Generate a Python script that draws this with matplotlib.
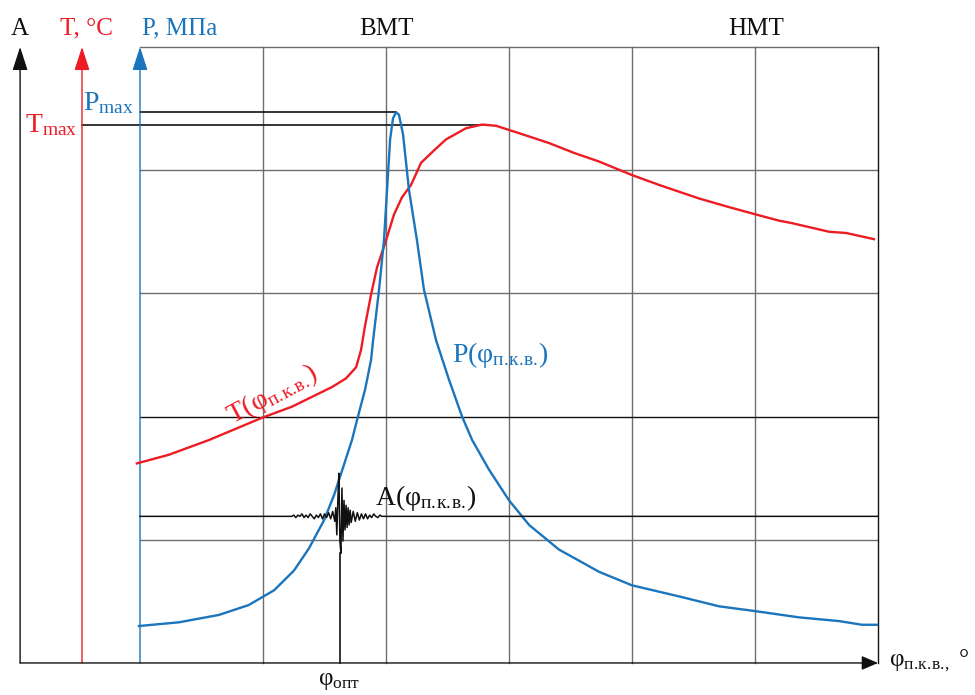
"""Schematic: P, T and knock signal A against crank angle (TDC / BDC)."""

import matplotlib.pyplot as plt

# ── palette ────────────────────────────────────────────────────────────
RED = "#ED1C24"
BLUE = "#1B75BC"
GRID = "#6E6E6E"
INK = "#111111"

plt.rcParams["font.family"] = ["Liberation Serif", "DejaVu Serif"]
plt.rcParams["mathtext.fontset"] = "custom"
plt.rcParams["mathtext.rm"] = "Liberation Serif"
plt.rcParams["mathtext.it"] = "Liberation Serif"

# ── data (crank angle in deg, 0 = TDC; values in grid units, 100 per row)
p_phi = [-120.5, -101, -81.5, -67, -54.6, -44.9, -37.6, -30.2, -25.4, -20.5,
         -16.6, -13.7, -10.2, -7.3, -6.3, -3.4, -1, 0.5, 2, 3.4, 4.9, 6.3,
         8.3, 11.2, 15.1, 18.5, 24.4, 30.7, 37.1, 42, 50.2, 60, 69.8, 84.4,
         103.9, 120, 143, 162.4, 180.5, 201.5, 221, 232.2, 239.5]
p_val = [30, 33, 39, 47, 59, 75, 93, 116, 136, 161,
         181, 200, 222, 246, 262, 303, 343, 384, 425, 442, 447, 445,
         429, 384, 343, 303, 262, 230, 200, 181, 157, 132, 112, 92,
         74, 63, 54, 46, 42, 37, 34, 31, 31]

t_phi = [-121.5, -105.9, -86.3, -60.5, -45.9, -26.3, -19.5, -14.6, -12.2,
         -10.2, -7.3, -4.4, 0, 3.9, 7.8, 12.2, 17.1, 23.4, 29.3, 39, 46.8,
         53.7, 64.9, 79.5, 91.7, 103.9, 120, 133.2, 152.7, 167.3, 180.5,
         191.7, 198, 216.1, 224.4, 238]
t_val = [162, 169, 181, 199, 208, 224, 231, 240, 254,
         274, 299, 321, 343, 364, 378, 388, 406, 416, 425, 434, 437,
         436, 430, 422, 414, 407, 396, 388, 377, 370, 364,
         359, 357, 350, 349, 344]

a_level = 119
a_phi = [-120, -46, -45, -44, -43, -42, -41, -40, -39, -38, -37, -36, -35,
         -34, -33, -32, -31, -30, -29, -28, -27, -26, -25, -24.5, -24,
         -23.5, -23, -22.5, -22, -21.5, -21, -20.5, -20, -19.5, -19, -18.5,
         -18, -17.5, -17, -16, -15, -14, -13, -12, -11, -10, -9, -8, -7,
         -6, -5, -4, -3, -2, -1, 240]
a_dev = [0, 0, 1, -1, 1, 0, 2, -1, 1, -1, 2, 0, -2,
         1, -1, 2, -2, 2, -1, 3, -2, 4, -4, 7, -15,
         13, 35, -20, -30, 23, -20, 13, -11, 9, -9, 7,
         -7, 5, -5, 4, -4, 3, -3, 2, -2, 2, -2, 1, -1,
         2, 0, -1, 1, 0, 0, 0]
phi_opt = -22.3

pmax = max(p_val)
tmax = max(t_val)
phi_pmax = p_phi[p_val.index(pmax)]
phi_tmax = t_phi[t_val.index(tmax)]

grid_phi = [-60, 0, 60, 120, 180]
grid_y = [100, 200, 300, 400]

# ── layout (one axes covering the whole canvas) ───────────────────────
X_A, X_T, X_P, X_END, Y_TOP = -178.5, -148.3, -120, 240, 500

fig = plt.figure(figsize=(9.75, 6.95), dpi=100)
ax = fig.add_axes([0, 0, 1, 1])
ax.set_xlim(-188.3, 287.3)
ax.set_ylim(-26, 538.1)
ax.axis("off")


def up_axis(x, color):
    ax.annotate("", xy=(x, Y_TOP), xytext=(x, 0),
                arrowprops=dict(arrowstyle="-|>,head_length=1.45,head_width=0.47",
                                color=color, lw=1.0, shrinkA=0, shrinkB=0,
                                mutation_scale=10))


# grid
for g in grid_phi:
    ax.plot([g, g], [0, Y_TOP], color=GRID, lw=1.0, zorder=1)
for g in grid_y:
    ax.plot([X_P, X_END], [g, g], color=INK if g == 200 else GRID, lw=1.0, zorder=1)
ax.plot([X_P, X_END], [Y_TOP, Y_TOP], color=GRID, lw=1.0, zorder=1)
ax.plot([X_END, X_END], [0, Y_TOP], color=INK, lw=1.0, zorder=1)

# axes
up_axis(X_A, INK)
up_axis(X_T, RED)
up_axis(X_P, BLUE)
ax.annotate("", xy=(X_END, 0), xytext=(X_A, 0),
            arrowprops=dict(arrowstyle="-|>,head_length=1.0,head_width=0.43",
                            color=INK, lw=1.0, shrinkA=0, shrinkB=0,
                            mutation_scale=10))

# max levels
ax.plot([X_P, phi_pmax], [pmax, pmax], color=INK, lw=1.2, zorder=2)
ax.plot([X_T, phi_tmax], [tmax, tmax], color=INK, lw=1.2, zorder=2)

# curves
ax.plot(t_phi, t_val, color=RED, lw=1.7, zorder=3)
ax.plot(p_phi, p_val, color=BLUE, lw=1.7, zorder=3)
ax.plot(a_phi, [a_level + d for d in a_dev], color=INK, lw=1.1, zorder=4)
ax.plot([phi_opt, phi_opt], [0, a_level - 30], color=INK, lw=1.2, zorder=4)

# ── labels ────────────────────────────────────────────────────────────
# \! cancels the thin space mathtext puts after each dot
SUB = r"$_{\mathrm{п.\!к.\!в.\!}}$"
top = dict(ha="center", va="baseline", fontsize=18)
ax.text(X_A, 510, "A", color=INK, **top)
ax.text(-146.3, 510, "T, °C", color=RED, **top)
ax.text(-100.5, 510, "P, МПа", color=BLUE, **top)
ax.text(0, 510, "ВМТ", color=INK, **top)
ax.text(180.5, 510, "НМТ", color=INK, **top)

ax.text(-122.9, 449, r"P$_{\mathrm{max}}$", color=BLUE, fontsize=20,
        ha="right", va="baseline")
ax.text(-150.7, 431, r"T$_{\mathrm{max}}$", color=RED, fontsize=20,
        ha="right", va="baseline")

ax.text(-55.6, 218, "T(φ" + SUB + ")", color=RED, fontsize=20,
        ha="center", va="center", rotation=28, rotation_mode="anchor")
ax.text(32.2, 250, "P(φ" + SUB + ")", color=BLUE, fontsize=20,
        ha="left", va="center")
ax.text(-5.4, 134, "A(φ" + SUB + ")", color=INK, fontsize=20,
        ha="left", va="center")
ax.text(245.4, 2, "φ" + r"$_{\mathrm{п.\!к.\!в.\!,}}$" + " °", color=INK,
        fontsize=18, ha="left", va="center")
ax.text(-22.9, -15, "φ" + r"$_{\mathrm{опт}}$", color=INK, fontsize=18,
        ha="center", va="center")

fig.savefig("out.png", dpi=100, facecolor="white")
